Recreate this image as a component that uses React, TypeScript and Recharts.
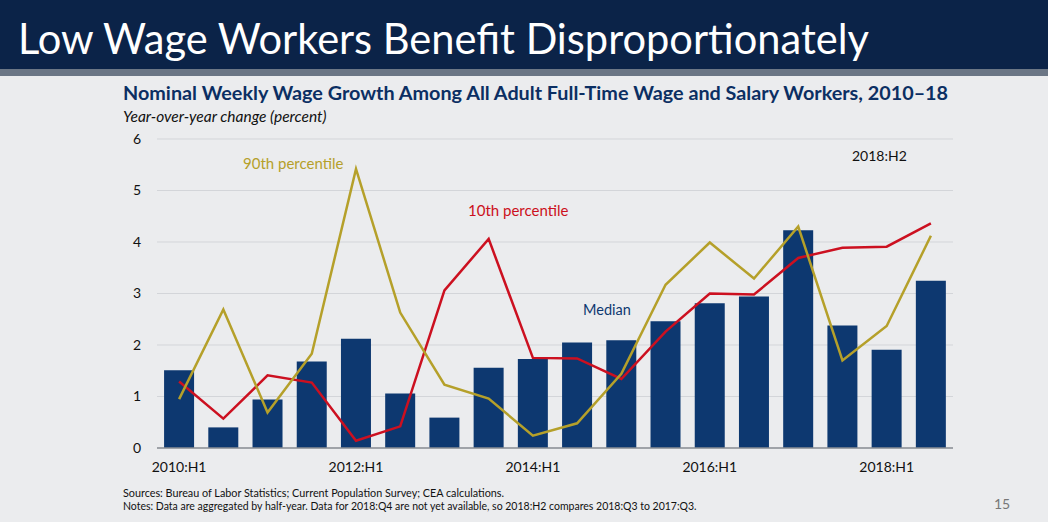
import { ComposedChart, Bar, Line, XAxis, YAxis, CartesianGrid } from 'recharts';

const periods = [
  '2010:H1', '2010:H2', '2011:H1', '2011:H2', '2012:H1', '2012:H2',
  '2013:H1', '2013:H2', '2014:H1', '2014:H2', '2015:H1', '2015:H2',
  '2016:H1', '2016:H2', '2017:H1', '2017:H2', '2018:H1', '2018:H2',
];

const median = [1.51, 0.4, 0.94, 1.68, 2.12, 1.06, 0.59, 1.56, 1.73, 2.05, 2.09, 2.46, 2.81, 2.94, 4.23, 2.38, 1.91, 3.25];
const p10 = [1.29, 0.57, 1.41, 1.27, 0.14, 0.42, 3.06, 4.06, 1.75, 1.74, 1.34, 2.26, 3.0, 2.98, 3.69, 3.89, 3.91, 4.36];
const p90 = [0.95, 2.69, 0.69, 1.83, 5.42, 2.63, 1.23, 0.96, 0.24, 0.48, 1.44, 3.17, 3.99, 3.29, 4.3, 1.7, 2.37, 4.12];

const yTicks = [0, 1, 2, 3, 4, 5, 6];

const data = periods.map((period, i) => ({
  period,
  median: median[i],
  p10: p10[i],
  p90: p90[i],
}));

const NAVY = '#0d3870';
const RED = '#cc1020';
const GOLD = '#b5a02a';
const FONT = 'Lato, "Open Sans", sans-serif';

const App = () => {
  return (
    <div style={{ position: 'absolute', top: 0, left: 0, width: 1048, height: 522, background: '#ebecee', fontFamily: FONT, overflow: 'hidden' }}>
      <div style={{ position: 'absolute', top: 0, left: 0, width: 1048, height: 69, background: '#0b2348' }} />
      <div style={{ position: 'absolute', top: 69, left: 0, width: 1048, height: 7, background: '#6b7685' }} />
      <div style={{ position: 'absolute', top: 10, left: 18, color: '#fff', fontSize: 41.6, whiteSpace: 'nowrap', lineHeight: '56px' }}>
        Low Wage Workers Benefit Disproportionately
      </div>
      <div style={{ position: 'absolute', top: 80, left: 123, color: '#0b2f63', fontSize: 19.8, fontWeight: 700, whiteSpace: 'nowrap', lineHeight: '24px' }}>
        Nominal Weekly Wage Growth Among All Adult Full-Time Wage and Salary Workers, 2010–18
      </div>
      <div style={{ position: 'absolute', top: 106, left: 123, color: '#111', fontSize: 15.5, fontStyle: 'italic', whiteSpace: 'nowrap', lineHeight: '20px' }}>
        Year-over-year change (percent)
      </div>

      <div style={{ position: 'absolute', top: 0, left: 0 }}>
        <ComposedChart
          width={1048}
          height={522}
          data={data}
          barCategoryGap="16%"
          margin={{ top: 139, right: 95, left: 117, bottom: 44 }}
        >
          <CartesianGrid vertical={false} stroke="#d3d5d9" />
          <XAxis
            dataKey="period"
            interval={3}
            tickLine={false}
            axisLine={{ stroke: '#8a8e95', strokeWidth: 1.5 }}
            tick={{ fill: '#111', fontSize: 14, fontFamily: FONT }}
            tickMargin={8}
            height={30}
          />
          <YAxis
            domain={[0, 6]}
            ticks={yTicks}
            axisLine={false}
            tickLine={false}
            tick={{ fill: '#111', fontSize: 14, fontFamily: FONT }}
            tickMargin={10}
            width={40}
          />
          <Bar dataKey="median" fill={NAVY} isAnimationActive={false} />
          <Line type="linear" dataKey="p10" stroke={RED} strokeWidth={2.5} dot={false} isAnimationActive={false} />
          <Line type="linear" dataKey="p90" stroke={GOLD} strokeWidth={2.5} dot={false} isAnimationActive={false} />
        </ComposedChart>
      </div>

      <div style={{ position: 'absolute', top: 154, left: 243, color: GOLD, fontSize: 15, whiteSpace: 'nowrap' }}>90th percentile</div>
      <div style={{ position: 'absolute', top: 201, left: 468, color: RED, fontSize: 15, whiteSpace: 'nowrap' }}>10th percentile</div>
      <div style={{ position: 'absolute', top: 301, left: 583, color: NAVY, fontSize: 14.5, whiteSpace: 'nowrap' }}>Median</div>
      <div style={{ position: 'absolute', top: 147, left: 852, color: '#111', fontSize: 14, whiteSpace: 'nowrap' }}>2018:H2</div>

      <div style={{ position: 'absolute', top: 486, left: 123, color: '#111', fontSize: 10.8, whiteSpace: 'nowrap' }}>
        Sources: Bureau of Labor Statistics; Current Population Survey; CEA calculations.
      </div>
      <div style={{ position: 'absolute', top: 500, left: 123, color: '#111', fontSize: 10.5, whiteSpace: 'nowrap' }}>
        Notes: Data are aggregated by half-year. Data for 2018:Q4 are not yet available, so 2018:H2 compares 2018:Q3 to 2017:Q3.
      </div>
      <div style={{ position: 'absolute', top: 495, left: 994, color: '#777', fontSize: 14, whiteSpace: 'nowrap' }}>15</div>
    </div>
  );
};

export default App;
